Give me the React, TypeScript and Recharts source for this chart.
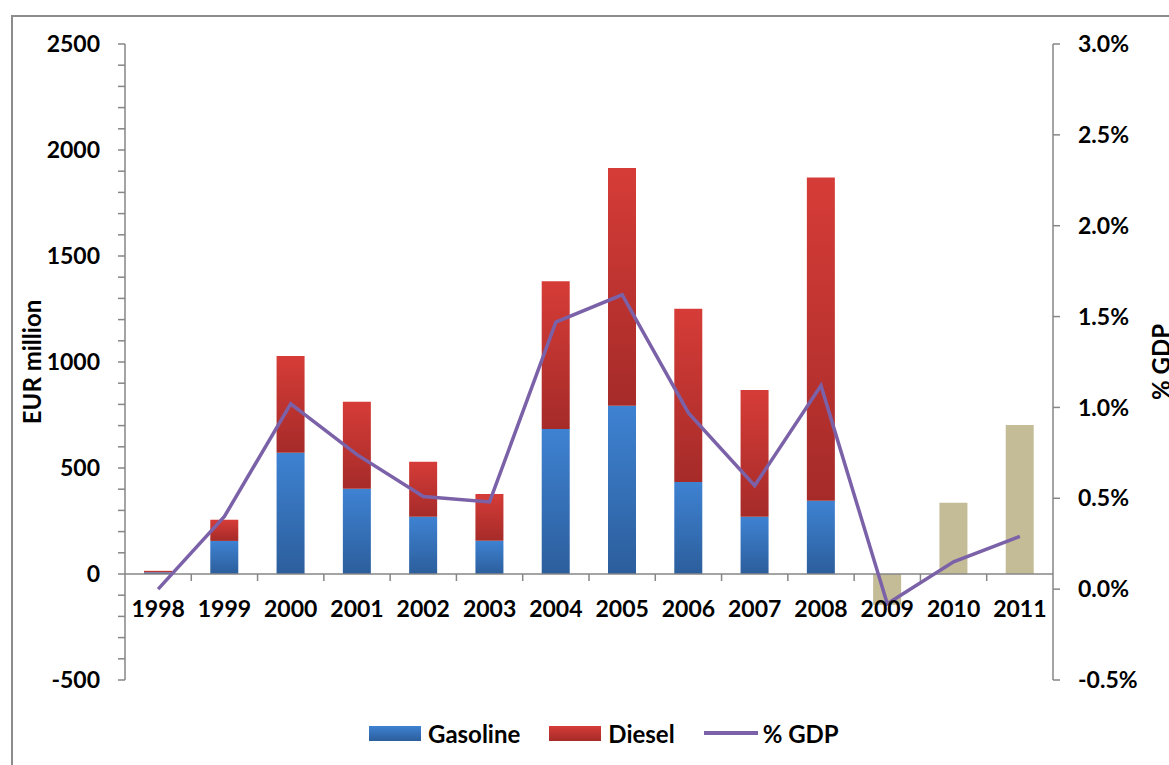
import React from 'react';
import { ComposedChart, Bar, Line, XAxis, YAxis, ReferenceLine } from 'recharts';

// categories and series
const years = ['1998', '1999', '2000', '2001', '2002', '2003', '2004', '2005', '2006', '2007', '2008', '2009', '2010', '2011'];
const gasoline = [8, 156, 572, 402, 270, 157, 684, 794, 434, 270, 346, 0, 0, 0];
const diesel = [7, 100, 456, 410, 260, 220, 697, 1121, 817, 598, 1524, 0, 0, 0];
const other = [0, 0, 0, 0, 0, 0, 0, 0, 0, 0, 0, -145, 336, 703];
const gdpShare = [0.0, 0.4, 1.02, 0.74, 0.51, 0.48, 1.47, 1.62, 0.97, 0.57, 1.12, -0.08, 0.15, 0.29];

const leftTicks = [-500, -400, -300, -200, -100, 0, 100, 200, 300, 400, 500, 600, 700, 800, 900, 1000,
  1100, 1200, 1300, 1400, 1500, 1600, 1700, 1800, 1900, 2000, 2100, 2200, 2300, 2400, 2500];
const rightTicks = [-0.5, 0, 0.5, 1, 1.5, 2, 2.5, 3];

const data = years.map((year, i) => ({
  year,
  gasoline: gasoline[i],
  diesel: diesel[i],
  other: other[i],
  gdp: gdpShare[i],
}));

const W = 1169;
const H = 765;
const PLOT_TOP = 44;
const PLOT_BOTTOM = 85;
const LEFT_W = 125;
const RIGHT_W = 116;
const LEFT_MIN = -500;
const LEFT_MAX = 2500;
const PLOT_H = H - PLOT_TOP - PLOT_BOTTOM;
const PLOT_W = W - LEFT_W - RIGHT_W;
const ZERO_Y = PLOT_TOP + (PLOT_H * (LEFT_MAX - 0)) / (LEFT_MAX - LEFT_MIN);
const BAND = PLOT_W / years.length;

const AXIS = '#868686';
const FONT = 'Lato, "Open Sans", sans-serif';
const tickText = { fill: '#000', fontSize: 23, fontWeight: 700, fontFamily: FONT };
const titleText = { ...tickText, fontSize: 24 };

const LeftTick = (props: any) => {
  const { x, y, payload } = props;
  if (payload.value % 500 !== 0) return null;
  return (
    <text x={x} y={y} dy="0.35em" textAnchor="end" {...tickText}>
      {payload.value}
    </text>
  );
};

// category axis sits on the zero line, with tick marks between categories
const YearTick = (props: any) => {
  const { x, payload, index } = props;
  return (
    <g>
      {index > 0 && <line x1={x - BAND / 2} x2={x - BAND / 2} y1={ZERO_Y} y2={ZERO_Y + 7} stroke={AXIS} strokeWidth={1.5} />}
      <text x={x} y={ZERO_Y + 35} dy="0.35em" textAnchor="middle" {...tickText}>
        {payload.value}
      </text>
    </g>
  );
};

const SideLabel = ({ viewBox, value, dxFromLeft }: any) => {
  const cx = viewBox.x + dxFromLeft;
  const cy = viewBox.y + viewBox.height / 2;
  return (
    <text x={cx} y={cy} dy="0.35em" textAnchor="middle" transform={`rotate(-90 ${cx} ${cy})`} {...titleText}>
      {value}
    </text>
  );
};

const legendItems = [
  { name: 'Gasoline', kind: 'bar', from: '#3e82d2', to: '#2c5e9c' },
  { name: 'Diesel', kind: 'bar', from: '#d63c37', to: '#a52b29' },
  { name: '% GDP', kind: 'line', color: '#7b62a8' },
];

export default function App() {
  return (
    <div style={{ position: 'fixed', left: 0, top: 0, width: W, height: H, overflow: 'hidden', background: '#fff', fontFamily: FONT }}>
      <div style={{ position: 'absolute', left: 11, top: 15, width: W + 20, height: H + 20, border: '2px solid #8c8c8c', boxSizing: 'border-box' }} />
      <div style={{ position: 'absolute', left: 0, top: 0 }}>
        <ComposedChart
          width={W}
          height={H}
          data={data}
          stackOffset="sign"
          margin={{ top: PLOT_TOP, right: 0, bottom: PLOT_BOTTOM - 1, left: 0 }}
        >
          <defs>
            <linearGradient id="gradBlue" x1="0" y1="0" x2="0" y2="1">
              <stop offset="0%" stopColor="#3e82d2" />
              <stop offset="100%" stopColor="#2c5e9c" />
            </linearGradient>
            <linearGradient id="gradRed" x1="0" y1="0" x2="0" y2="1">
              <stop offset="0%" stopColor="#d63c37" />
              <stop offset="100%" stopColor="#a52b29" />
            </linearGradient>
          </defs>
          <XAxis
            dataKey="year"
            xAxisId="x"
            height={1}
            axisLine={false}
            tickLine={false}
            interval={0}
            tick={<YearTick />}
          />
          <YAxis
            yAxisId="left"
            width={LEFT_W}
            domain={[LEFT_MIN, LEFT_MAX]}
            ticks={leftTicks}
            interval={0}
            tickSize={7}
            tickMargin={18}
            axisLine={{ stroke: AXIS, strokeWidth: 1.5 }}
            tickLine={{ stroke: AXIS, strokeWidth: 1.5 }}
            tick={<LeftTick />}
            allowDataOverflow
            label={{ value: 'EUR million', content: (p: any) => <SideLabel {...p} value="EUR million" dxFromLeft={33} /> }}
          />
          <YAxis
            yAxisId="right"
            orientation="right"
            width={RIGHT_W}
            domain={[-0.5, 3]}
            ticks={rightTicks}
            interval={0}
            tickSize={7}
            tickMargin={18}
            axisLine={{ stroke: AXIS, strokeWidth: 1.5 }}
            tickLine={{ stroke: AXIS, strokeWidth: 1.5 }}
            tick={{ ...tickText, textAnchor: 'start' }}
            tickFormatter={(v: number) => `${v.toFixed(1)}%`}
            allowDataOverflow
            label={{ value: '% GDP', content: (p: any) => <SideLabel {...p} value="% GDP" dxFromLeft={109} /> }}
          />
          <Bar xAxisId="x" yAxisId="left" dataKey="gasoline" name="Gasoline" stackId="s" fill="url(#gradBlue)" barSize={28} isAnimationActive={false} />
          <Bar xAxisId="x" yAxisId="left" dataKey="diesel" name="Diesel" stackId="s" fill="url(#gradRed)" barSize={28} isAnimationActive={false} />
          <Bar xAxisId="x" yAxisId="left" dataKey="other" name="Other" stackId="s" fill="#c4bc96" barSize={28} isAnimationActive={false} />
          <ReferenceLine xAxisId="x" yAxisId="left" y={0} stroke={AXIS} strokeWidth={1.5} />
          <Line
            xAxisId="x"
            yAxisId="right"
            type="linear"
            dataKey="gdp"
            name="% GDP"
            stroke="#7b62a8"
            strokeWidth={3.5}
            dot={false}
            isAnimationActive={false}
          />
        </ComposedChart>
      </div>
      <div style={{ position: 'absolute', left: 369, top: 719, display: 'flex', alignItems: 'center', height: 28, fontSize: 24, fontWeight: 700, color: '#000' }}>
        {legendItems.map((it, i) => (
          <div key={it.name} style={{ display: 'flex', alignItems: 'center', marginRight: i < legendItems.length - 1 ? 29 : 0 }}>
            {it.kind === 'bar' ? (
              <div style={{ width: 52, height: 15, background: `linear-gradient(${it.from}, ${it.to})`, marginRight: 7 }} />
            ) : (
              <div style={{ width: 54, height: 3.5, background: it.color, marginRight: 5 }} />
            )}
            <span>{it.name}</span>
          </div>
        ))}
      </div>
    </div>
  );
}
